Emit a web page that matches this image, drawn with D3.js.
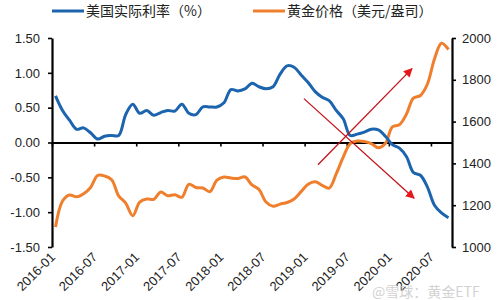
<!DOCTYPE html>
<html>
<head>
<meta charset="utf-8">
<script src="https://cdn.jsdelivr.net/npm/d3@7"></script>
<style>
  body { margin: 0; background: #fff; }
  svg text { font-family: "Liberation Sans", Arial, sans-serif; }
</style>
</head>
<body>
<div id="chart"></div>
<script>
// months 2016-01 .. 2020-09
var months = [];
for (var yr = 2016; yr <= 2020; yr++) {
  for (var m = 1; m <= 12; m++) {
    if (yr === 2020 && m > 9) break;
    months.push(yr + "-" + (m < 10 ? "0" + m : m));
  }
}

// 美国实际利率 (%)
var realRate = [0.67, 0.46, 0.32, 0.19, 0.21, 0.14, 0.05, 0.09, 0.10, 0.10,
  0.40, 0.55, 0.42, 0.46, 0.39, 0.43, 0.46, 0.45, 0.55, 0.42,
  0.40, 0.51, 0.51, 0.51, 0.57, 0.76, 0.74, 0.77, 0.85, 0.80,
  0.77, 0.80, 0.98, 1.10, 1.08, 0.97, 0.86, 0.73, 0.65, 0.60,
  0.46, 0.34, 0.10, 0.12, 0.15, 0.19, 0.18, 0.09, -0.03, -0.08,
  -0.20, -0.43, -0.47, -0.64, -0.90, -1.01, -1.08];

// 黄金价格 (美元/盎司)
var goldPrice = [1096, 1220, 1249, 1240, 1255, 1285, 1342, 1340, 1322, 1245,
  1210, 1150, 1215, 1230, 1228, 1263, 1245, 1250, 1238, 1300,
  1285, 1282, 1265, 1320, 1335, 1330, 1328, 1335, 1297, 1275,
  1215, 1195, 1205, 1213, 1230, 1265, 1300, 1312, 1295, 1282,
  1350, 1430, 1495, 1507, 1505, 1495, 1475, 1495, 1575, 1585,
  1635, 1712, 1725, 1780, 1900, 1975, 1945];

var leftTicks = [-1.5, -1.0, -0.5, 0, 0.5, 1.0, 1.5];
var rightTicks = [1000, 1200, 1400, 1600, 1800, 2000];
var xTickIdx = [0, 6, 12, 18, 24, 30, 36, 42, 48, 54];

// annotation arrows in data units: [monthIdx, rate]
var arrows = [
  { from: [37.9, -0.32], to: [51.3, 1.06] },
  { from: [35.9, 0.63], to: [51.6, -0.80] }
];

var width = 500, height = 300;
var svg = d3.select("#chart").append("svg")
  .attr("width", width).attr("height", height);

var defs = svg.append("defs");
defs.append("marker")
  .attr("id", "arrowhead")
  .attr("viewBox", "0 0 10 10")
  .attr("refX", 9).attr("refY", 5)
  .attr("markerWidth", 9).attr("markerHeight", 9)
  .attr("markerUnits", "userSpaceOnUse")
  .attr("orient", "auto")
  .append("path")
  .attr("d", "M0,0L10,5L0,10z")
  .attr("fill", "#e8161b");

var x = d3.scaleLinear().domain([0, months.length]).range([52, 452]);
var yL = d3.scaleLinear().domain([-1.5, 1.5]).range([247, 38]);
var yR = d3.scaleLinear().domain([1000, 2000]).range([247, 38]);

// left axis
var gl = svg.append("g")
  .attr("transform", "translate(52,0)")
  .call(d3.axisLeft(yL).tickValues(leftTicks).tickSize(4).tickSizeOuter(0)
    .tickFormat(function(d) { return d.toFixed(2); }));

// right axis
var gr = svg.append("g")
  .attr("transform", "translate(452,0)")
  .call(d3.axisRight(yR).tickValues(rightTicks).tickSize(4).tickSizeOuter(0)
    .tickFormat(function(d) { return String(d); }));

// x axis line at zero
var gx = svg.append("g")
  .attr("transform", "translate(0," + yL(0) + ")")
  .call(d3.axisBottom(x).tickValues(xTickIdx).tickSize(4).tickSizeOuter(0)
    .tickFormat(""));

[gl, gr, gx].forEach(function(g) {
  g.select(".domain").attr("stroke", "#000").attr("stroke-width", 2.2);
  g.selectAll(".tick line").attr("stroke", "#000").attr("stroke-width", 1.6);
  g.selectAll(".tick text").attr("fill", "#222").style("font-size", "13px")
    .style("font-family", "'Liberation Sans', Arial, sans-serif");
});
gl.selectAll(".tick text").attr("x", -12);
gr.selectAll(".tick text").attr("x", 10);

// rotated x labels at the bottom
svg.append("g").selectAll("text")
  .data(xTickIdx)
  .enter().append("text")
  .attr("transform", function(d) { return "translate(" + (x(d) + 4) + ",258) rotate(-45)"; })
  .attr("text-anchor", "end")
  .attr("fill", "#222")
  .style("font-size", "13px")
  .text(function(d) { return months[d]; });

// lines
var lineL = d3.line()
  .x(function(d, i) { return x(i + 0.5); })
  .y(function(d) { return yL(d); })
  .curve(d3.curveCatmullRom);
var lineR = d3.line()
  .x(function(d, i) { return x(i + 0.5); })
  .y(function(d) { return yR(d); })
  .curve(d3.curveCatmullRom);

svg.append("path").datum(goldPrice)
  .attr("d", lineR).attr("fill", "none")
  .attr("stroke", "#ef7f2c").attr("stroke-width", 3);

svg.append("path").datum(realRate)
  .attr("d", lineL).attr("fill", "none")
  .attr("stroke", "#1c64ad").attr("stroke-width", 3);

// red arrows
svg.append("g").selectAll("line")
  .data(arrows)
  .enter().append("line")
  .attr("x1", function(d) { return x(d.from[0]); })
  .attr("y1", function(d) { return yL(d.from[1]); })
  .attr("x2", function(d) { return x(d.to[0]); })
  .attr("y2", function(d) { return yL(d.to[1]); })
  .attr("stroke", "#c3121b")
  .attr("stroke-width", 1.3)
  .attr("marker-end", "url(#arrowhead)");

// legend
var legend = [
  { label: "美国实际利率（%）", color: "#1c64ad", x: 52 },
  { label: "黄金价格（美元/盎司）", color: "#ef7f2c", x: 253 }
];
var lg = svg.append("g").selectAll("g")
  .data(legend).enter().append("g")
  .attr("transform", function(d) { return "translate(" + d.x + ",11)"; });
lg.append("line")
  .attr("x1", 0).attr("x2", 32).attr("y1", 0).attr("y2", 0)
  .attr("stroke", function(d) { return d.color; })
  .attr("stroke-width", 3);
lg.append("text")
  .attr("x", 34).attr("y", 5)
  .attr("fill", "#222")
  .style("font-size", "14px")
  .style("font-family", "'Noto Sans CJK SC', sans-serif")
  .text(function(d) { return d.label; });

// watermark
svg.append("text")
  .attr("x", 372).attr("y", 297)
  .attr("fill", "#c8c8c8")
  .attr("opacity", 0.8)
  .style("font-size", "14px")
  .style("font-family", "'Noto Sans CJK SC', sans-serif")
  .text("@雪球：黄金ETF");
</script>
</body>
</html>
